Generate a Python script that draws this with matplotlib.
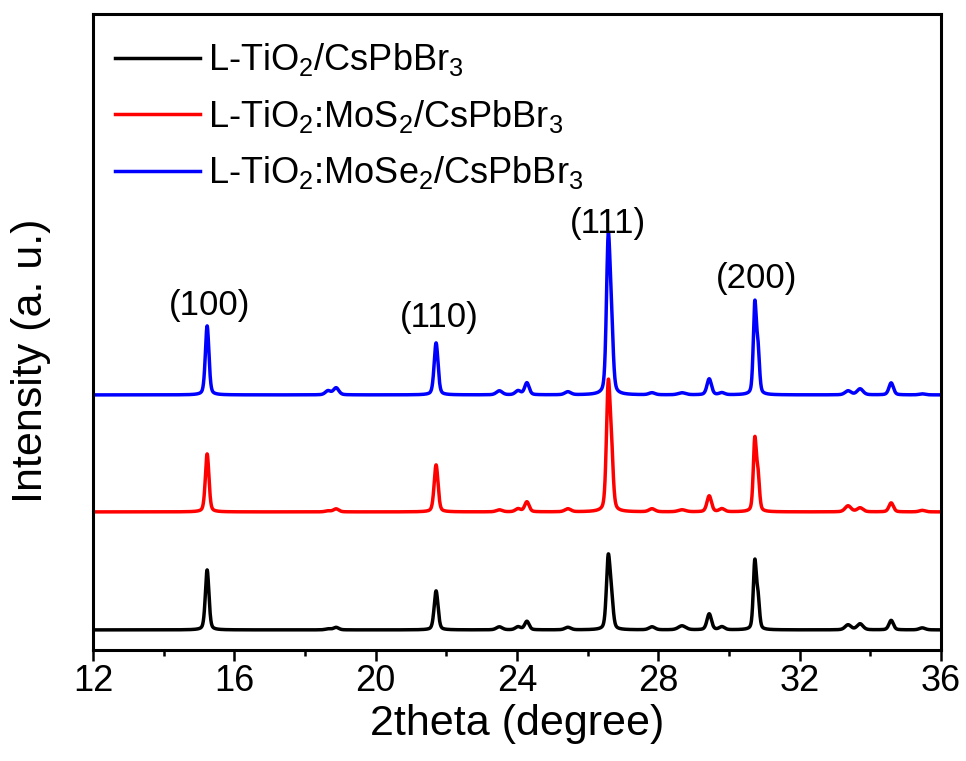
import numpy as np
import matplotlib
matplotlib.use("Agg")
import matplotlib.pyplot as plt
from matplotlib.ticker import MultipleLocator

plt.rcParams['font.family'] = ['Liberation Sans', 'DejaVu Sans']
plt.rcParams['mathtext.fontset'] = 'custom'
plt.rcParams['mathtext.rm'] = 'Liberation Sans'
plt.rcParams['mathtext.default'] = 'regular'

# peak list (2theta, FWHM) shared by the three films
peak_pos = [15.23, 18.65, 18.88, 21.71, 23.50, 24.03, 24.28, 25.44, 26.58, 26.67,
            27.82, 28.67, 29.44, 29.80, 30.73, 30.82, 33.37, 33.71, 34.59, 35.47]
peak_fwhm = [0.12, 0.18, 0.18, 0.13, 0.20, 0.18, 0.15, 0.20, 0.12, 0.12,
             0.20, 0.25, 0.15, 0.18, 0.10, 0.10, 0.20, 0.20, 0.15, 0.20]

# peak heights (a. u.)
h_tio2 = [60, 1, 2.5, 39, 3, 3, 8.5, 2.5, 68, 30,
          3, 4, 16, 3, 66, 30, 5, 6, 9.5, 2]
h_mos2 = [58, 1, 3, 47, 2, 3, 10, 3, 118, 55,
          3, 2, 16, 3, 70, 34, 6, 4, 9, 1.5]
h_mose2 = [69, 4, 7, 52, 4, 4, 12, 3, 145, 65,
           2, 2, 16, 2, 88, 42, 4, 6, 12, 1]

# vertical offsets of the stacked patterns
off_tio2 = 20
off_mos2 = 138
off_mose2 = 255

labels = ['L-TiO$_2$/CsPbBr$_3$',
          'L-TiO$_2$:MoS$_2$/CsPbBr$_3$',
          'L-TiO$_2$:MoSe$_2$/CsPbBr$_3$']
colors = ['black', 'red', 'blue']

hkl = ['(100)', '(110)', '(111)', '(200)']
hkl_x = [15.29, 21.79, 26.56, 30.77]
hkl_y = [328, 316, 410, 355]

tt = np.linspace(12, 36, 4801)


def pattern(heights, offset, eta=0.35):
    # pseudo-Voigt sum over the peak list
    y = np.full_like(tt, float(offset))
    for p, w, h in zip(peak_pos, peak_fwhm, heights):
        d = (tt - p) / w
        g = np.exp(-4 * np.log(2) * d ** 2)
        l = 1.0 / (1 + 4 * d ** 2)
        y += h * ((1 - eta) * g + eta * l)
    return y


fig = plt.figure(figsize=(9.66, 7.61), dpi=100)
ax = fig.add_axes([0.0963, 0.146, 0.8778, 0.8357])

for h, off, c, lab in zip([h_tio2, h_mos2, h_mose2],
                          [off_tio2, off_mos2, off_mose2], colors, labels):
    ax.plot(tt, pattern(h, off), color=c, lw=2.5, label=lab)

for t, x, y in zip(hkl, hkl_x, hkl_y):
    ax.text(x, y, t, ha='center', va='bottom', fontsize=25)

ax.set_xlim(12, 36)
ax.set_ylim(0, 636)
ax.xaxis.set_major_locator(MultipleLocator(4))
ax.xaxis.set_minor_locator(MultipleLocator(2))
ax.set_yticks([])
ax.tick_params(axis='x', which='major', length=8, width=1.8, labelsize=26, pad=2)
ax.tick_params(axis='x', which='minor', length=4.5, width=1.8)
for s in ax.spines.values():
    s.set_linewidth(2.2)

ax.set_xlabel('2theta (degree)', fontsize=31, labelpad=4)
ax.set_ylabel('Intensity (a. u.)', fontsize=31)
ax.yaxis.set_label_coords(-0.05, 0.454)

ax.legend(loc='upper left', bbox_to_anchor=(0.026, 0.957), frameon=False,
          fontsize=26, handlelength=2.36, handletextpad=0.22,
          labelspacing=0.54, borderpad=0, borderaxespad=0)

fig.savefig('out.png', dpi=100)
